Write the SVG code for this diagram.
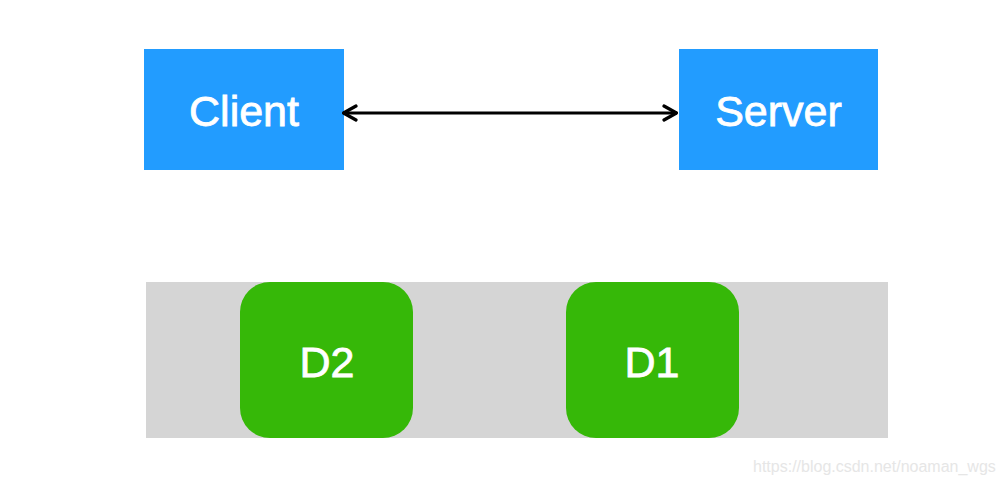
<svg xmlns="http://www.w3.org/2000/svg" width="1002" height="484" viewBox="0 0 1002 484">
<style>
.box{fill:#229cff}
.disk{fill:#36b808}
.lbl{fill:#fff;stroke:#fff;stroke-width:0.8;font-family:"Liberation Sans",Arial,sans-serif;font-size:43px;text-anchor:middle}
.wm{fill:#e6e6e6;font-family:"Liberation Sans",Arial,sans-serif;font-size:16px}
</style>
<defs>
<marker id="ah" viewBox="0 0 16 18" refX="15" refY="9" markerWidth="16" markerHeight="18" markerUnits="userSpaceOnUse" orient="auto-start-reverse">
<path d="M2,2 L14.5,9 L2,16" fill="none" stroke="#000" stroke-width="3.2" stroke-linecap="round" stroke-linejoin="round"/>
</marker>
</defs>
<rect width="1002" height="484" fill="#fff"/>
<rect id="band" x="146" y="282" width="742" height="156" fill="#d5d5d5"/>
<g id="client"><rect class="box" x="144" y="49" width="200" height="121"/><text class="lbl" x="244" y="126">Client</text></g>
<g id="server"><rect class="box" x="679" y="49" width="199" height="121"/><text class="lbl" x="778.5" y="126">Server</text></g>
<g id="d2"><rect class="disk" x="240" y="282" width="173" height="156" rx="30"/><text class="lbl" x="327" y="377">D2</text></g>
<g id="d1"><rect class="disk" x="566" y="282" width="173" height="156" rx="30"/><text class="lbl" x="652" y="377">D1</text></g>
<g id="connectors">
<line x1="343" y1="113" x2="677" y2="113" stroke="#000" stroke-width="3.2" marker-start="url(#ah)" marker-end="url(#ah)"/>
</g>
<text class="wm" x="753" y="472">https://blog.csdn.net/noaman_wgs</text>
</svg>
